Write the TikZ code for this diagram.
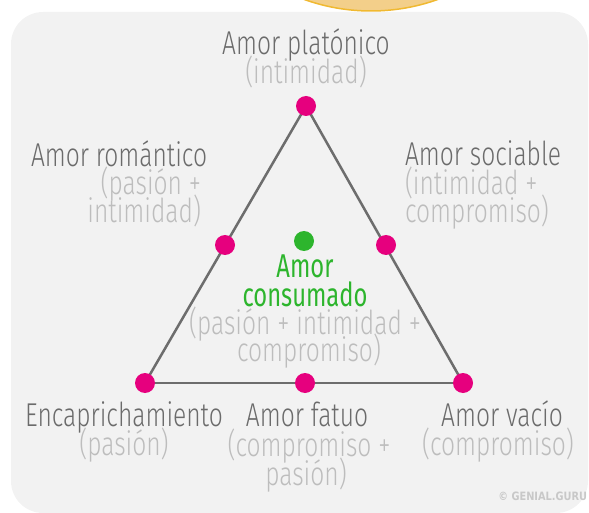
\documentclass[tikz,border=0pt]{standalone}
\usepackage{fontspec}
\setmainfont{Fira Sans Light}[FakeStretch=0.745]
\newfontfamily\greenfont{Fira Sans}[FakeStretch=0.72]
\newfontfamily\markfont{DejaVu Sans}[FakeStretch=0.85]
\begin{document}
\begin{tikzpicture}[x=1pt,y=-1pt,line cap=rect,
  lbl/.style={inner sep=0, outer sep=0, font=\fontsize{33pt}{33pt}\selectfont},
  title/.style={lbl, custcol_6b_6b_6b},
  note/.style={lbl, custcol_bd_bd_bd},
  best/.style={inner sep=0, outer sep=0, custcol_2d_b5_2d, font=\greenfont\fontsize{33pt}{33pt}\selectfont},
  pinkdot/.style={circle, inner sep=0, minimum size=20pt, fill=custcol_e6_00_7e},
  greendot/.style={circle, inner sep=0, minimum size=20pt, fill=custcol_2d_b5_2d}]
\useasboundingbox (0,0) rectangle (589,513);
\definecolor{custcol_f2_f2_f2}{RGB}{242, 242, 242}
\definecolor{custcol_f3_cf_8a}{RGB}{243, 207, 138}
\definecolor{custcol_f0_b9_31}{RGB}{240, 185, 49}
\definecolor{custcol_6d_6d_6d}{RGB}{109, 109, 109}
\definecolor{custcol_6b_6b_6b}{RGB}{107, 107, 107}
\definecolor{custcol_bd_bd_bd}{RGB}{189, 189, 189}
\definecolor{custcol_2d_b5_2d}{RGB}{45, 181, 45}
\definecolor{custcol_e6_00_7e}{RGB}{230, 0, 126}
\definecolor{custcol_c8_c8_c8}{RGB}{200, 200, 200}
% card and sun
\fill [custcol_f2_f2_f2, rounded corners=32pt]  (11.0,12.0) rectangle (588.0,513.0) ;
\draw [line width=1.5pt, custcol_f0_b9_31, fill=custcol_f3_cf_8a]  (371.0,-187.0) circle (198pt) ;
% triangle
\coordinate (top) at (306.0,106.0);
\coordinate (left) at (145.0,383.0);
\coordinate (right) at (463.0,383.0);
\draw [line width=2.5pt, custcol_6d_6d_6d ]  (top) -- (left) ;
\draw [line width=2.5pt, custcol_6d_6d_6d ]  (left) -- (right) ;
\draw [line width=2.5pt, custcol_6d_6d_6d ]  (right) -- (top) ;
\node[pinkdot] (dot_top) at (top) {};
\node[pinkdot] (dot_left) at (left) {};
\node[pinkdot] (dot_right) at (right) {};
\node[pinkdot] (dot_romantico) at (225.0,245.0) {};
\node[pinkdot] (dot_sociable) at (386.0,245.0) {};
\node[pinkdot] (dot_fatuo) at (305.0,383.0) {};
\node[greendot] (dot_consumado) at (304.0,241.0) {};
% labels
\node[title, anchor=base] (t_platonico) at (306.0,55.0) {Amor platónico};
\node[note, anchor=base] (n_platonico) at (306.0,84.0) {(intimidad)};
\node[title, anchor=base west] (t_romantico) at (31.0,167.0) {Amor romántico};
\node[note, anchor=base east] (n_romantico_a) at (201.0,195.0) {(pasión +};
\node[note, anchor=base east] (n_romantico_b) at (201.0,223.0) {intimidad)};
\node[title, anchor=base west] (t_sociable) at (405.0,166.0) {Amor sociable};
\node[note, anchor=base west] (n_sociable_a) at (405.0,195.0) {(intimidad +};
\node[note, anchor=base west] (n_sociable_b) at (405.0,223.0) {compromiso)};
\node[best, anchor=base] (t_consumado_a) at (305.0,277.0) {Amor};
\node[best, anchor=base] (t_consumado_b) at (305.0,306.0) {consumado};
\node[note, anchor=base] (n_consumado_a) at (305.0,334.0) {(pasión + intimidad +};
\node[note, anchor=base] (n_consumado_b) at (309.0,361.0) {compromiso)};
\node[title, anchor=base] (t_encaprichamiento) at (124.0,426.0) {Encaprichamiento};
\node[note, anchor=base] (n_encaprichamiento) at (124.0,455.0) {(pasión)};
\node[title, anchor=base] (t_fatuo) at (307.0,426.0) {Amor fatuo};
\node[note, anchor=base] (n_fatuo_a) at (309.0,456.0) {(compromiso +};
\node[note, anchor=base] (n_fatuo_b) at (306.0,485.0) {pasión)};
\node[title, anchor=base] (t_vacio) at (502.0,426.0) {Amor vacío};
\node[note, anchor=base] (n_vacio) at (498.0,455.0) {(compromiso)};
\node[inner sep=0, outer sep=0, custcol_c8_c8_c8, anchor=base east, font=\markfont\bfseries\fontsize{11.5pt}{11.5pt}\selectfont] (mark) at (587.0,500.0) {© GENIAL.GURU};
\end{tikzpicture}
\end{document}
